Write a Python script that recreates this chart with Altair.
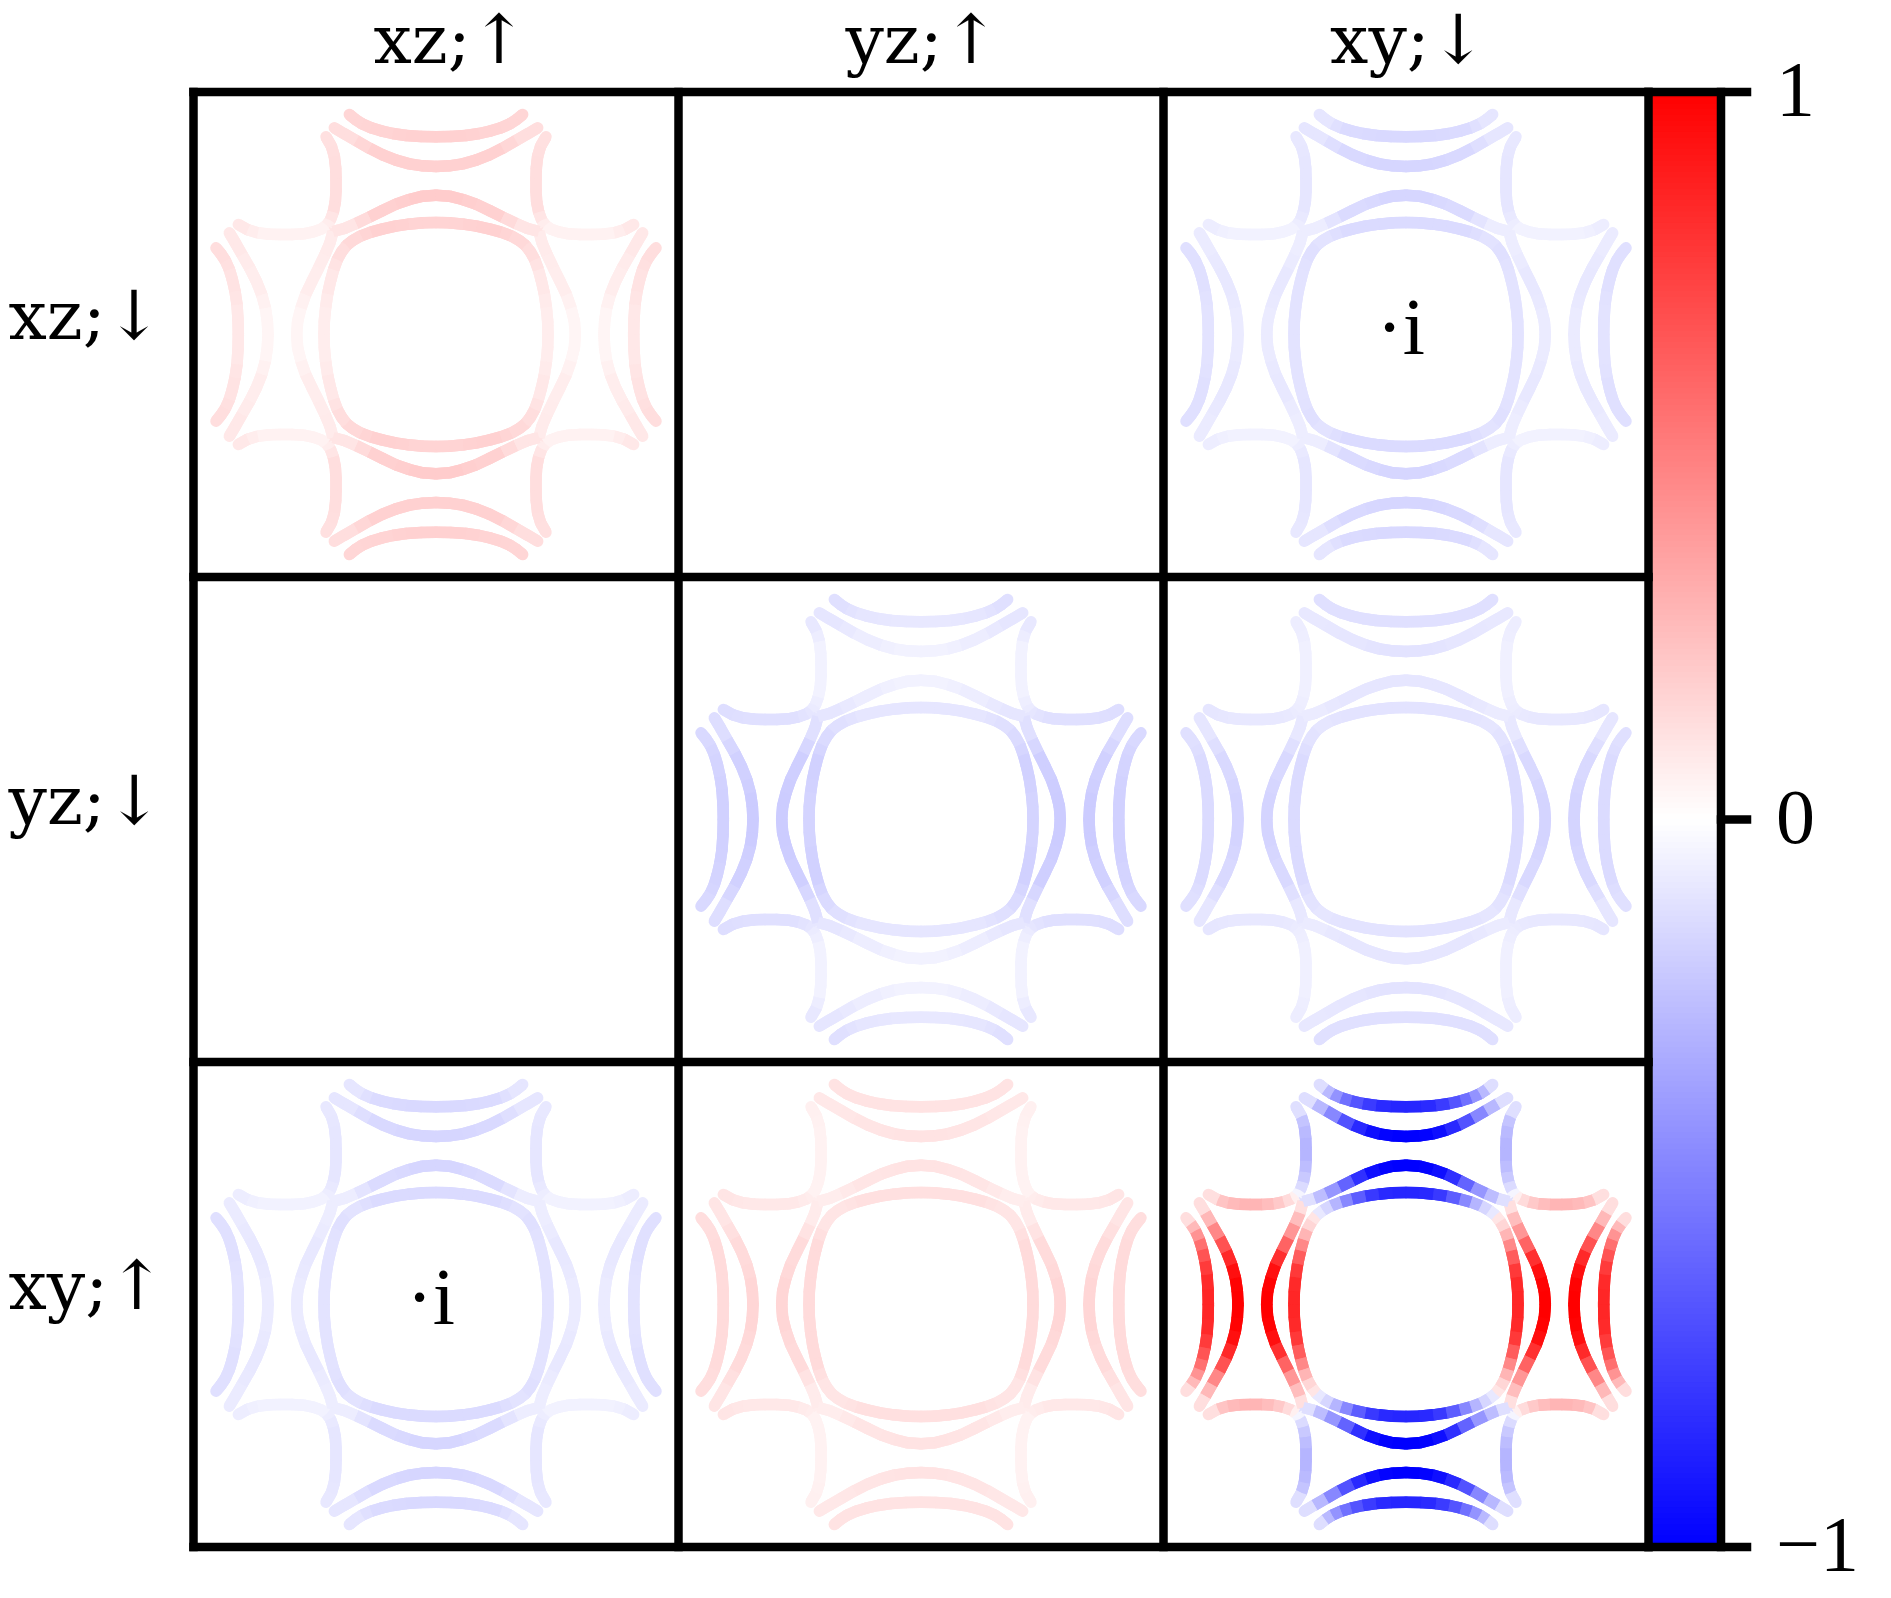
import altair as alt
import pandas as pd

# ---- geometry of the figure (cell units: one panel = 1) ----
PANEL_PX = 485.0
LEFT_PX, TOP_PX = 193.5, 92.0

# Half curves, as (along, across) distance from the panel centre
CURVE_A = [(0, 593), (45, 594), (90, 597), (130, 603), (165, 611), (195, 620), (222, 632), (243, 646), (260, 660)]
CURVE_B = [(0, 504), (40, 506), (80, 512), (120, 523), (160, 539), (200, 559), (240, 582), (275, 602), (305, 620)]
CURVE_C = [(328, 328), (317, 343), (308, 368), (302, 398), (300, 432), (300, 468), (301, 500), (305, 535), (314, 565), (330, 593)]
CURVE_D = [(0, 418), (40, 415), (80, 405), (120, 391), (160, 372), (200, 352), (240, 333), (275, 318), (309, 309)]
CURVE_E = [(0, 336), (40, 335), (82, 331), (122, 325), (162, 316), (195, 307), (225, 296), (250, 282), (268, 268)]
CURVES = {"A": CURVE_A, "B": CURVE_B, "C": CURVE_C, "D": CURVE_D, "E": CURVE_E}

# which of the three stored values applies at each point of a curve
SECTIONS = {
    "A": [0, 0, 0, 1, 1, 1, 2, 2, 2],
    "B": [0, 0, 0, 1, 1, 1, 2, 2, 2],
    "C": [0, 0, 1, 1, 1, 1, 1, 1, 2, 2],
    "D": [0, 0, 0, 1, 1, 1, 2, 2, 2],
    "E": [0, 0, 0, 1, 1, 1, 2, 2, 2],
}

# values on the top/bottom part (T) and on the left/right part (S) of each panel
P_XZ_XZ = {
    "T": {"A": [.18, .17, .16], "B": [.18, .18, .13], "C": [.07, .13, .12], "D": [.20, .18, .10], "E": [.17, .18, .15]},
    "S": {"A": [.09, .11, .13], "B": [.04, .07, .09], "C": [.05, .05, .09], "D": [.04, .07, .08], "E": [.07, .09, .13]},
}
P_YZ_YZ = {
    "T": {"A": [-.09, -.10, -.12], "B": [-.05, -.07, -.10], "C": [-.08, -.05, -.09], "D": [-.05, -.07, -.10], "E": [-.10, -.10, -.12]},
    "S": {"A": [-.18, -.17, -.15], "B": [-.20, -.18, -.13], "C": [-.10, -.12, -.13], "D": [-.20, -.19, -.12], "E": [-.17, -.18, -.14]},
}
P_XZ_XY = {
    "T": {"A": [-.15, -.14, -.10], "B": [-.16, -.15, -.10], "C": [-.07, -.10, -.09], "D": [-.16, -.14, -.07], "E": [-.14, -.14, -.11]},
    "S": {"A": [-.11, -.12, -.12], "B": [-.08, -.09, -.08], "C": [-.05, -.05, -.07], "D": [-.08, -.09, -.07], "E": [-.11, -.11, -.12]},
}
P_YZ_XY = {
    "T": {"A": [-.12, -.12, -.12], "B": [-.11, -.10, -.09], "C": [-.07, -.06, -.07], "D": [-.10, -.10, -.08], "E": [-.11, -.11, -.10]},
    "S": {"A": [-.14, -.14, -.12], "B": [-.17, -.15, -.10], "C": [-.08, -.09, -.10], "D": [-.17, -.15, -.09], "E": [-.14, -.14, -.11]},
}
P_XY_YZ = {
    "T": {"A": [.11, .11, .11], "B": [.11, .10, .09], "C": [.05, .05, .06], "D": [.11, .10, .07], "E": [.12, .12, .10]},
    "S": {"A": [.14, .14, .13], "B": [.16, .14, .10], "C": [.07, .09, .10], "D": [.16, .14, .08], "E": [.14, .14, .10]},
}
# the strong xy/xy panel: one value per curve point
P_XY_XY_T = {
    "A": [-.85, -.85, -.82, -.72, -.62, -.50, -.35, -.20, -.06],
    "B": [-1.0, -1.0, -.98, -.90, -.78, -.58, -.36, -.20, -.06],
    "C": [.02, -.10, -.18, -.24, -.28, -.30, -.28, -.26, -.20, -.05],
    "D": [-1.0, -1.0, -.98, -.90, -.72, -.50, -.32, -.20, -.05],
    "E": [-.85, -.85, -.83, -.72, -.55, -.38, -.20, -.12, -.06],
}
P_XY_XY_S = {
    "A": [.85, .85, .82, .72, .62, .50, .35, .20, .06],
    "B": [1.0, 1.0, .98, .90, .78, .58, .36, .20, .06],
    "C": [.02, .10, .18, .24, .28, .30, .28, .26, .20, .05],
    "D": [1.0, 1.0, .98, .90, .72, .50, .32, .20, .05],
    "E": [.85, .85, .83, .72, .55, .38, .20, .12, .08],
}

# (row, column) -> values
PANELS = {
    (0, 0): P_XZ_XZ,
    (0, 2): P_XZ_XY,
    (1, 1): P_YZ_YZ,
    (1, 2): P_YZ_XY,
    (2, 0): P_XZ_XY,
    (2, 1): P_XY_YZ,
}

TITLES = ["xz;↑", "yz;↑", "xy;↓"]
TITLE_X = [0.530, 1.503, 2.505]
ROW_LABELS = ["xz;↓", "yz;↓", "xy;↑"]
TICK_VALUES = [1, 0, -1]
TICK_LABELS = ["1", "0", "−1"]
N_LEVELS = 256

CB_RIGHT = (1721 - LEFT_PX) / PANEL_PX
TICK_END = (1747 - LEFT_PX) / PANEL_PX
TICK_TEXT_X = (1776 - LEFT_PX) / PANEL_PX
ROW_LABEL_X = (8.5 - LEFT_PX) / PANEL_PX
TITLE_Y = (63 - TOP_PX) / PANEL_PX
ROW_BASE = (339 - TOP_PX) / PANEL_PX
CELL = 1455.0  # one panel in the units of the curve lists


def segments(row, col, values_t, values_s, by_section):
    out = []
    cx, cy = col + 0.5, row + 0.5
    for name, pts in CURVES.items():
        for part, vals in (("S", values_s[name]), ("T", values_t[name])):
            for sa in (-1, 1):
                for sb in (-1, 1):
                    for i in range(len(pts) - 1):
                        a0, b0 = pts[i]
                        a1, b1 = pts[i + 1]
                        if by_section:
                            v = (vals[SECTIONS[name][i]] + vals[SECTIONS[name][i + 1]]) / 2
                        else:
                            v = (vals[i] + vals[i + 1]) / 2
                        if part == "T":
                            dx0, dy0, dx1, dy1 = sa * a0, sb * b0, sa * a1, sb * b1
                        else:
                            dx0, dy0, dx1, dy1 = sb * b0, sa * a0, sb * b1, sa * a1
                        out.append({
                            "x": cx + dx0 / CELL, "y": cy + dy0 / CELL,
                            "x2": cx + dx1 / CELL, "y2": cy + dy1 / CELL,
                            "v": v,
                        })
    return out


rows = []
for (r, c), p in PANELS.items():
    rows += segments(r, c, p["T"], p["S"], True)
rows += segments(2, 2, P_XY_XY_T, P_XY_XY_S, False)
curve_df = pd.DataFrame(rows)

# colour bar
step = 3.0 / N_LEVELS
bar = []
for i in range(N_LEVELS):
    t = i * step
    bar.append({"x": 3.0, "x2": CB_RIGHT, "y": t, "y2": min(t + 2 * step, 3.0), "v": 1 - 2 * (i + 0.5) / N_LEVELS})
bar_df = pd.DataFrame(bar)

# frame
frame = []
for g in [0, 1, 2, 3]:
    frame.append({"x": g, "x2": g, "y": 0, "y2": 3})
    frame.append({"x": 0, "x2": 3, "y": g, "y2": g})
frame.append({"x": CB_RIGHT, "x2": CB_RIGHT, "y": 0, "y2": 3})
for tv in TICK_VALUES:
    yy = (1 - tv) * 1.5
    if tv == 0:
        frame.append({"x": CB_RIGHT, "x2": TICK_END, "y": yy, "y2": yy})
    else:
        frame.append({"x": 3, "x2": TICK_END, "y": yy, "y2": yy})
frame_df = pd.DataFrame(frame)

title_df = pd.DataFrame({"x": TITLE_X, "y": [TITLE_Y] * 3, "t": TITLES})
row_df = pd.DataFrame({"x": [ROW_LABEL_X] * 3, "y": [ROW_BASE + i for i in range(3)], "t": ROW_LABELS})
tick_df = pd.DataFrame({"x": [TICK_TEXT_X] * 3, "y": [(1 - v) * 1.5 for v in TICK_VALUES], "t": TICK_LABELS})
dot_df = pd.DataFrame({"x": [2.489, 0.489], "y": [(354 - TOP_PX) / PANEL_PX, (354 - TOP_PX) / PANEL_PX + 2], "t": ["·i", "·i"]})

W, H = 1875, 1582
xs = alt.Scale(domain=[(8 - LEFT_PX) / PANEL_PX, (8 + W - LEFT_PX) / PANEL_PX], nice=False, zero=False)
ys = alt.Scale(domain=[(8 - TOP_PX) / PANEL_PX, (8 + H - TOP_PX) / PANEL_PX], nice=False, zero=False, reverse=True)
cs = alt.Scale(domain=[-1, 0, 1], range=["#0000ff", "#ffffff", "#ff0000"], interpolate="rgb")
X = alt.X("x:Q", scale=xs, axis=None)
Y = alt.Y("y:Q", scale=ys, axis=None)
C = alt.Color("v:Q", scale=cs, legend=None)

# round ends underneath, square-cut segments on top so that the joints do not show as beads
curves_round = alt.Chart(curve_df).mark_rule(strokeWidth=11.5, strokeCap="round").encode(x=X, y=Y, x2="x2:Q", y2="y2:Q", color=C)
curves_butt = alt.Chart(curve_df).mark_rule(strokeWidth=11.5, strokeCap="butt").encode(x=X, y=Y, x2="x2:Q", y2="y2:Q", color=C)
colorbar = alt.Chart(bar_df).mark_rect(strokeWidth=0).encode(x=X, y=Y, x2="x2:Q", y2="y2:Q", color=C)
lines = alt.Chart(frame_df).mark_rule(strokeWidth=8.5, strokeCap="square", color="black").encode(x=X, y=Y, x2="x2:Q", y2="y2:Q")


def text_layer(df, align, baseline, size, font="Liberation Serif"):
    return alt.Chart(df).mark_text(font=font, fontSize=size, align=align, baseline=baseline, color="black").encode(x=X, y=Y, text="t:N")


chart = alt.layer(
    curves_round,
    curves_butt,
    colorbar,
    lines,
    text_layer(title_df, "center", "alphabetic", 68, "DejaVu Serif"),
    text_layer(row_df, "left", "alphabetic", 68, "DejaVu Serif"),
    text_layer(tick_df, "left", "middle", 78),
    text_layer(dot_df, "center", "alphabetic", 80),
).properties(width=W, height=H, padding=0, background="white", autosize=alt.AutoSizeParams(type="none")).configure_view(stroke=None)

chart.save("out.html", embed_options={"renderer": "svg", "actions": False})
